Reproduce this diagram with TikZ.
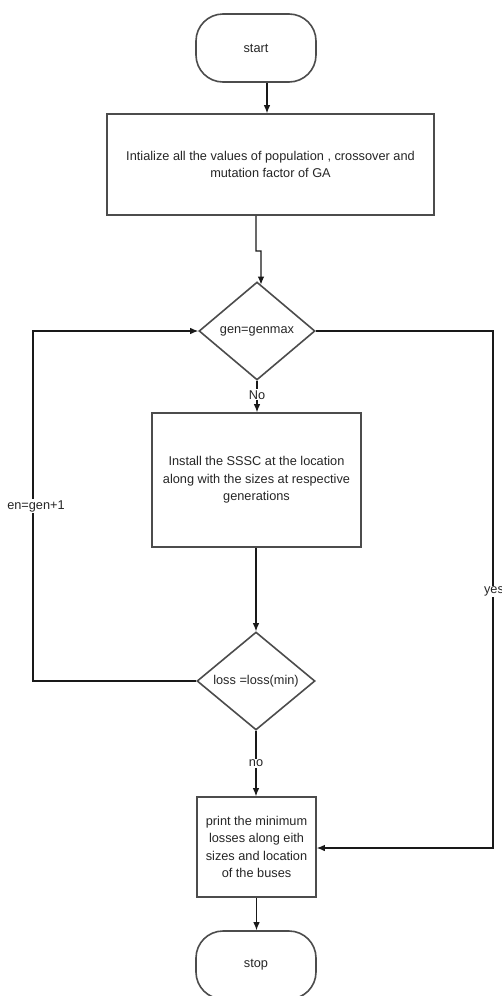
\documentclass[tikz,border=0pt]{standalone}
\usepackage{fontspec}
\setmainfont{Liberation Sans}
\usetikzlibrary{shapes.geometric,arrows.meta,calc}
\begin{document}
\begin{tikzpicture}[x=1bp,y=-1bp,
  every node/.style={font=\fontsize{12.8}{17.5}\selectfont, text=black!85},
  shapebox/.style={draw=black!70, line width=1.6bp, inner sep=0pt, align=center, fill=white},
  term/.style={shapebox, rounded corners=27bp, minimum width=120bp, minimum height=68bp},
  procbox/.style={shapebox, rectangle},
  decide/.style={shapebox, diamond},
  conn/.style={draw=black!90, line width=1.1bp},
  arr/.style={conn, -{Latex[length=8bp,width=6.5bp]}},
  lbl/.style={fill=white, inner sep=1bp}
]
\useasboundingbox (0,0) rectangle (502,996);
\fill[white] (0,0) rectangle (502,996);

\node[term] (start) at (256,48) {start};
\node[procbox, minimum width=327bp, minimum height=101bp] (init) at (270.5,164.5)
  {Intialize all the values of population , crossover and\\ mutation factor of GA};
\node[decide, minimum width=116bp, minimum height=98bp] (d1) at (257,331) {gen=genmax};
\node[procbox, minimum width=209bp, minimum height=134bp] (inst) at (256.5,480)
  {Install the SSSC at the location\\ along with the sizes at respective\\ generations};
\node[decide, minimum width=118bp, minimum height=98bp] (d2) at (256,681) {loss =loss(min)};
\node[procbox, minimum width=119bp, minimum height=100bp] (prt) at (256.5,847)
  {print the minimum\\ losses along eith\\ sizes and location\\ of the buses};
\node[term] (stop) at (256,965) {stop};

\coordinate (j1) at (256,251);
\coordinate (j2) at (261,251);
\coordinate (lt) at (33,331);
\coordinate (lb) at (33,681);
\coordinate (rt) at (493,331);
\coordinate (rb) at (493,848);

% start -> init
\draw[arr] ([xshift=11bp]start.south) -- ([xshift=11bp]start.south |- init.north);
% init -> d1 (with small jog)
\draw[arr] (init.south -| j1) -- (j1) -- (j2) -- ([xshift=4bp,yshift=-3.4bp]d1.north);
% d1 -> install (No)
\draw[arr] (d1.south) -- (d1.south |- inst.north) node[lbl, pos=0.45] {No};
% install -> d2
\draw[arr] (inst.south -| d2.north) -- (d2.north);
% d2 -> loop back to d1
\draw[arr] (d2.west) -- (lb) -- node[lbl, pos=0.5, xshift=3bp] {en=gen+1} (lt) -- (d1.west);
% d1 -> print (yes)
\draw[arr] (d1.east) -- (rt) -- node[lbl, pos=0.504, xshift=1bp] {yes} (rb) -- (prt.east |- rb);
% d2 -> print (no)
\draw[arr] (d2.south) -- (d2.south |- prt.north) node[lbl, pos=0.5] {no};
% print -> stop
\draw[arr] (prt.south) -- (prt.south |- stop.north);
\end{tikzpicture}
\end{document}
